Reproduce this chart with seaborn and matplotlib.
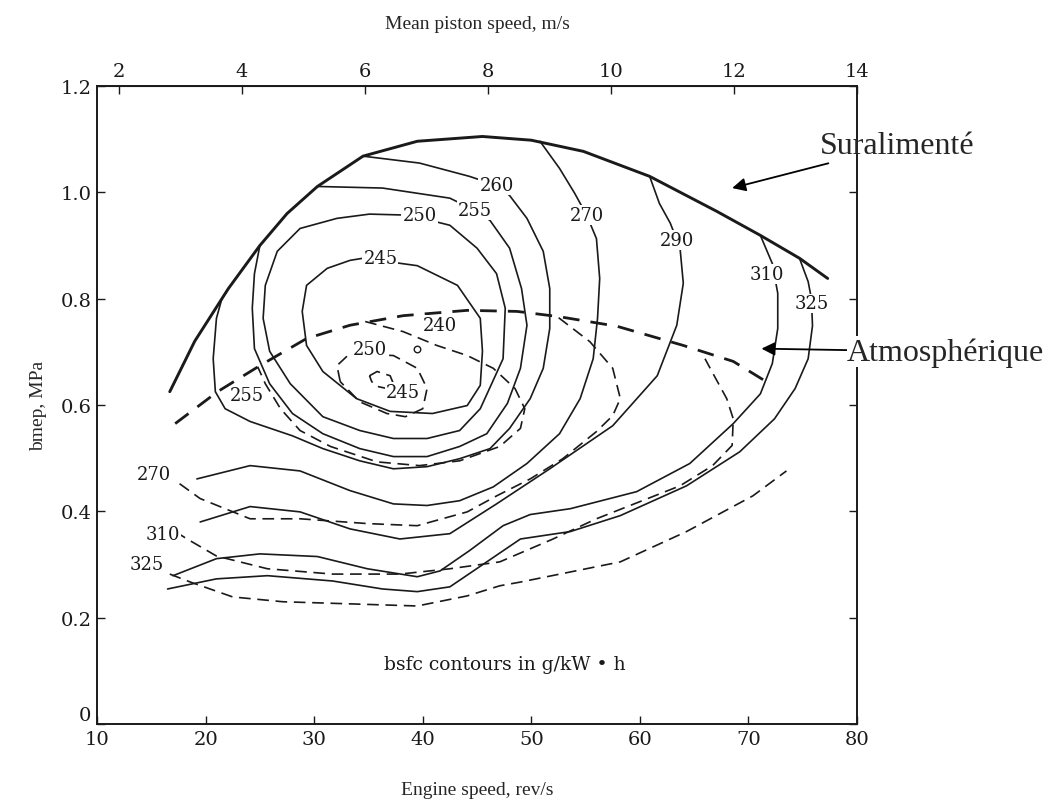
import matplotlib
matplotlib.use("Agg")
import matplotlib.pyplot as plt
import seaborn as sns

# heavy full-load lines (bmep in MPa vs engine speed in rev/s)
turbo_full_x = [16.7, 19.0, 22.1, 25.0, 27.5, 30.3, 34.5, 39.5, 45.5, 50.0, 54.8, 60.9, 67.1, 71.1, 74.7, 77.3]
turbo_full_y = [0.625, 0.72, 0.819, 0.900, 0.96, 1.011, 1.068, 1.096, 1.105, 1.098, 1.077, 1.030, 0.964, 0.919, 0.876, 0.838]
atmo_full_x = [17.2, 21.1, 25.0, 29.3, 33.3, 38.2, 44.1, 48.7, 52.6, 57.9, 64.0, 68.6, 72.2]
atmo_full_y = [0.565, 0.625, 0.674, 0.725, 0.750, 0.768, 0.778, 0.776, 0.766, 0.748, 0.712, 0.682, 0.637]

# solid bsfc contours (supercharged)
s245_x = [34.5, 39.5, 43.2, 45.3, 45.5, 45.3, 44.1, 40.9, 37.0, 33.9, 30.8, 29.3, 28.9, 29.3, 31.2, 33.3, 34.5]
s245_y = [0.876, 0.862, 0.825, 0.763, 0.701, 0.637, 0.599, 0.584, 0.588, 0.612, 0.663, 0.712, 0.776, 0.825, 0.857, 0.872, 0.876]
s250_x = [38.8, 42.5, 45.0, 46.8, 47.6, 47.4, 45.3, 43.4, 40.4, 37.3, 34.2, 30.8, 27.8, 25.9, 25.3, 25.5, 26.6, 28.7, 32.1, 35.1, 38.8]
s250_y = [0.957, 0.938, 0.895, 0.847, 0.782, 0.687, 0.593, 0.552, 0.537, 0.537, 0.552, 0.578, 0.640, 0.701, 0.763, 0.825, 0.889, 0.932, 0.951, 0.959, 0.957]
s255_x = [30.3, 36.3, 42.5, 44.8, 46.2, 48.0, 49.1, 49.6, 49.0, 47.8, 45.9, 43.4, 40.4, 37.3, 34.2, 30.8, 28.0, 25.9, 24.5, 24.3, 24.5, 25.0]
s255_y = [1.011, 1.008, 0.989, 0.966, 0.947, 0.895, 0.819, 0.750, 0.669, 0.603, 0.546, 0.522, 0.503, 0.503, 0.518, 0.546, 0.584, 0.640, 0.706, 0.782, 0.847, 0.900]
s260_x = [34.5, 39.7, 44.3, 46.8, 48.0, 49.6, 51.1, 51.7, 51.7, 51.1, 49.9, 48.0, 46.2, 43.4, 40.4, 37.3, 34.2, 30.8, 28.0, 24.1, 21.8, 20.9, 20.7, 21.0, 21.5, 22.1]
s260_y = [1.068, 1.055, 1.030, 1.013, 0.994, 0.951, 0.889, 0.819, 0.744, 0.669, 0.612, 0.556, 0.518, 0.499, 0.484, 0.480, 0.495, 0.518, 0.542, 0.569, 0.593, 0.625, 0.687, 0.763, 0.800, 0.819]
s270_x = [19.2, 24.1, 28.7, 33.3, 37.3, 40.4, 43.4, 46.5, 49.6, 52.6, 54.5, 55.7, 56.1, 56.3, 56.0, 55.1, 54.0, 52.6, 50.8]
s270_y = [0.461, 0.486, 0.476, 0.439, 0.414, 0.411, 0.420, 0.446, 0.490, 0.546, 0.612, 0.687, 0.763, 0.838, 0.913, 0.957, 0.998, 1.045, 1.096]
s290_x = [19.5, 24.1, 28.7, 33.3, 37.9, 42.5, 46.8, 51.7, 57.5, 61.6, 63.4, 64.0, 63.7, 62.8, 61.8, 60.9]
s290_y = [0.380, 0.409, 0.399, 0.367, 0.348, 0.358, 0.414, 0.480, 0.561, 0.655, 0.750, 0.829, 0.895, 0.942, 0.979, 1.030]
s310_x = [17.0, 21.0, 25.0, 30.3, 34.9, 39.5, 41.6, 44.3, 47.4, 49.9, 53.6, 59.7, 64.6, 68.6, 71.1, 72.2, 72.7, 72.7, 72.2, 71.1]
s310_y = [0.279, 0.311, 0.320, 0.315, 0.292, 0.277, 0.288, 0.326, 0.373, 0.394, 0.405, 0.437, 0.490, 0.565, 0.621, 0.678, 0.744, 0.810, 0.866, 0.919]
s325_x = [16.5, 21.0, 25.7, 31.7, 36.3, 39.5, 42.5, 45.9, 49.0, 53.6, 58.2, 64.3, 69.2, 72.4, 74.3, 75.5, 75.9, 75.8, 75.5, 74.7]
s325_y = [0.254, 0.273, 0.279, 0.269, 0.254, 0.249, 0.258, 0.305, 0.348, 0.362, 0.392, 0.448, 0.512, 0.574, 0.631, 0.687, 0.749, 0.800, 0.832, 0.876]

# dashed bsfc contours (naturally aspirated)
d245_x = [35.1, 35.8, 37.0, 37.3, 36.7, 35.8, 35.3, 35.1]
d245_y = [0.655, 0.663, 0.655, 0.640, 0.631, 0.635, 0.644, 0.655]
d250_x = [32.4, 32.1, 33.3, 37.3, 39.5, 40.4, 40.0, 38.4, 36.7, 34.2, 32.4]
d250_y = [0.644, 0.674, 0.697, 0.693, 0.669, 0.631, 0.593, 0.578, 0.584, 0.606, 0.644]
d255_x = [34.7, 38.2, 41.3, 44.1, 46.5, 48.5, 49.4, 49.0, 47.1, 43.4, 39.7, 35.8, 31.5, 28.7, 26.9, 25.5, 24.8]
d255_y = [0.757, 0.738, 0.712, 0.693, 0.669, 0.631, 0.593, 0.556, 0.522, 0.495, 0.486, 0.493, 0.522, 0.552, 0.593, 0.640, 0.672]
d270_x = [17.6, 19.5, 24.1, 28.7, 34.9, 39.5, 44.1, 46.8, 49.9, 52.9, 56.0, 57.5, 58.2, 57.5, 55.4, 52.4]
d270_y = [0.452, 0.424, 0.386, 0.386, 0.377, 0.373, 0.399, 0.429, 0.461, 0.499, 0.550, 0.580, 0.612, 0.669, 0.719, 0.766]
d310_x = [17.2, 18.3, 21.0, 25.7, 31.7, 37.9, 42.5, 47.1, 52.0, 56.0, 59.1, 63.7, 66.7, 68.5, 68.6, 68.0, 66.9, 66.0]
d310_y = [0.362, 0.348, 0.316, 0.292, 0.282, 0.282, 0.292, 0.305, 0.348, 0.386, 0.411, 0.448, 0.486, 0.524, 0.574, 0.612, 0.653, 0.687]
d325_x = [16.7, 18.6, 22.5, 27.1, 33.3, 39.5, 44.1, 47.1, 49.0, 58.2, 64.3, 70.4, 73.5]
d325_y = [0.282, 0.267, 0.239, 0.230, 0.226, 0.222, 0.241, 0.260, 0.267, 0.305, 0.362, 0.429, 0.476]
min_point = (39.5, 0.706)

solid_labels = ["245", "250", "255", "260", "270", "290", "310", "325", "255"]
solid_label_x = [36.1, 39.7, 44.8, 46.8, 55.1, 63.4, 71.7, 75.8, 23.8]
solid_label_y = [0.876, 0.957, 0.966, 1.013, 0.957, 0.910, 0.847, 0.791, 0.618]
dashed_labels = ["240", "250", "245", "270", "310", "325"]
dashed_label_x = [41.6, 35.1, 38.2, 15.2, 16.1, 14.6]
dashed_label_y = [0.750, 0.706, 0.625, 0.471, 0.358, 0.301]

sns.set_style("ticks")
plt.rcParams['font.family'] = ['Liberation Serif', 'DejaVu Serif']
num_font = "DejaVu Serif"
ink = "#1a1a1a"

fig = plt.figure(figsize=(10.5, 8.03), dpi=100)
ax = fig.add_axes([0.0924, 0.0971, 0.7238, 0.7946])

solid = [(s245_x, s245_y), (s250_x, s250_y), (s255_x, s255_y), (s260_x, s260_y),
         (s270_x, s270_y), (s290_x, s290_y), (s310_x, s310_y), (s325_x, s325_y)]
dashed = [(d245_x, d245_y), (d250_x, d250_y), (d255_x, d255_y),
          (d270_x, d270_y), (d310_x, d310_y), (d325_x, d325_y)]

for xs, ys in solid:
    sns.lineplot(x=xs, y=ys, sort=False, estimator=None, ax=ax, color=ink, linewidth=1.2)
for xs, ys in dashed:
    sns.lineplot(x=xs, y=ys, sort=False, estimator=None, ax=ax, color=ink,
                 linewidth=1.2, linestyle=(0, (7, 4)))
sns.lineplot(x=turbo_full_x, y=turbo_full_y, sort=False, estimator=None, ax=ax,
             color=ink, linewidth=2.1)
sns.lineplot(x=atmo_full_x, y=atmo_full_y, sort=False, estimator=None, ax=ax,
             color=ink, linewidth=2.0, linestyle=(0, (6, 4)))
sns.scatterplot(x=[min_point[0]], y=[min_point[1]], ax=ax, s=22, facecolor="white",
                edgecolor=ink, linewidth=1.0, zorder=5)

lab_kw = dict(ha="center", va="center", fontsize=13, color=ink, zorder=6, family=num_font,
              bbox=dict(boxstyle="square,pad=0.05", fc="white", ec="none"))
for t, x, y in zip(solid_labels, solid_label_x, solid_label_y):
    ax.text(x, y, t, **lab_kw)
for t, x, y in zip(dashed_labels, dashed_label_x, dashed_label_y):
    ax.text(x, y, t, **lab_kw)

ax.text(47.6, 0.113, "bsfc contours in g/kW \u2022 h", ha="center", va="center",
        fontsize=13.5, color=ink, family=num_font)

# French annotations outside the plot
ax.annotate("Suralimenté", xy=(68.5, 1.008), xytext=(76.6, 1.088), fontsize=23,
            ha="left", va="center", annotation_clip=False,
            arrowprops=dict(arrowstyle="-|>", color="black", lw=1.3, mutation_scale=20,
                            shrinkA=0, shrinkB=0))
ax.annotate("Atmosphérique", xy=(71.2, 0.706), xytext=(79.1, 0.700), fontsize=23,
            ha="left", va="center", annotation_clip=False, zorder=10,
            bbox=dict(boxstyle="square,pad=0.02", fc="white", ec="none"),
            arrowprops=dict(arrowstyle="-|>", color="black", lw=1.3, mutation_scale=20,
                            shrinkA=0, shrinkB=0))

ax.set_xlim(10, 80)
ax.set_ylim(0, 1.2)
ax.set_xticks(range(10, 81, 10))
ax.set_yticks([0, 0.2, 0.4, 0.6, 0.8, 1.0, 1.2])
ax.set_yticklabels(["0", "0.2", "0.4", "0.6", "0.8", "1.0", "1.2"])
ax.tick_params(direction="in", length=6, width=1.0, labelsize=14, colors=ink,
               right=True, pad=4)
for lbl in ax.get_xticklabels() + ax.get_yticklabels():
    lbl.set_family(num_font)
ax.get_yticklabels()[0].set_va("bottom")
for sp in ax.spines.values():
    sp.set_visible(True)
    sp.set_linewidth(1.4)
    sp.set_color(ink)

slope = 12 / 68
icpt = 2 - 12 * slope
top = ax.secondary_xaxis("top", functions=(lambda n: slope * n + icpt, lambda p: (p - icpt) / slope))
top.set_xticks(range(2, 15, 2))
top.tick_params(direction="in", length=6, width=1.0, labelsize=14, colors=ink, pad=4)
for lbl in top.get_xticklabels():
    lbl.set_family(num_font)
top.set_xlabel("Mean piston speed, m/s", fontsize=14, labelpad=25)

ax.set_xlabel("Engine speed, rev/s", fontsize=14, labelpad=24)
ax.set_ylabel("bmep, MPa", fontsize=14, labelpad=10)

fig.savefig("out.png", dpi=100, facecolor="white")
